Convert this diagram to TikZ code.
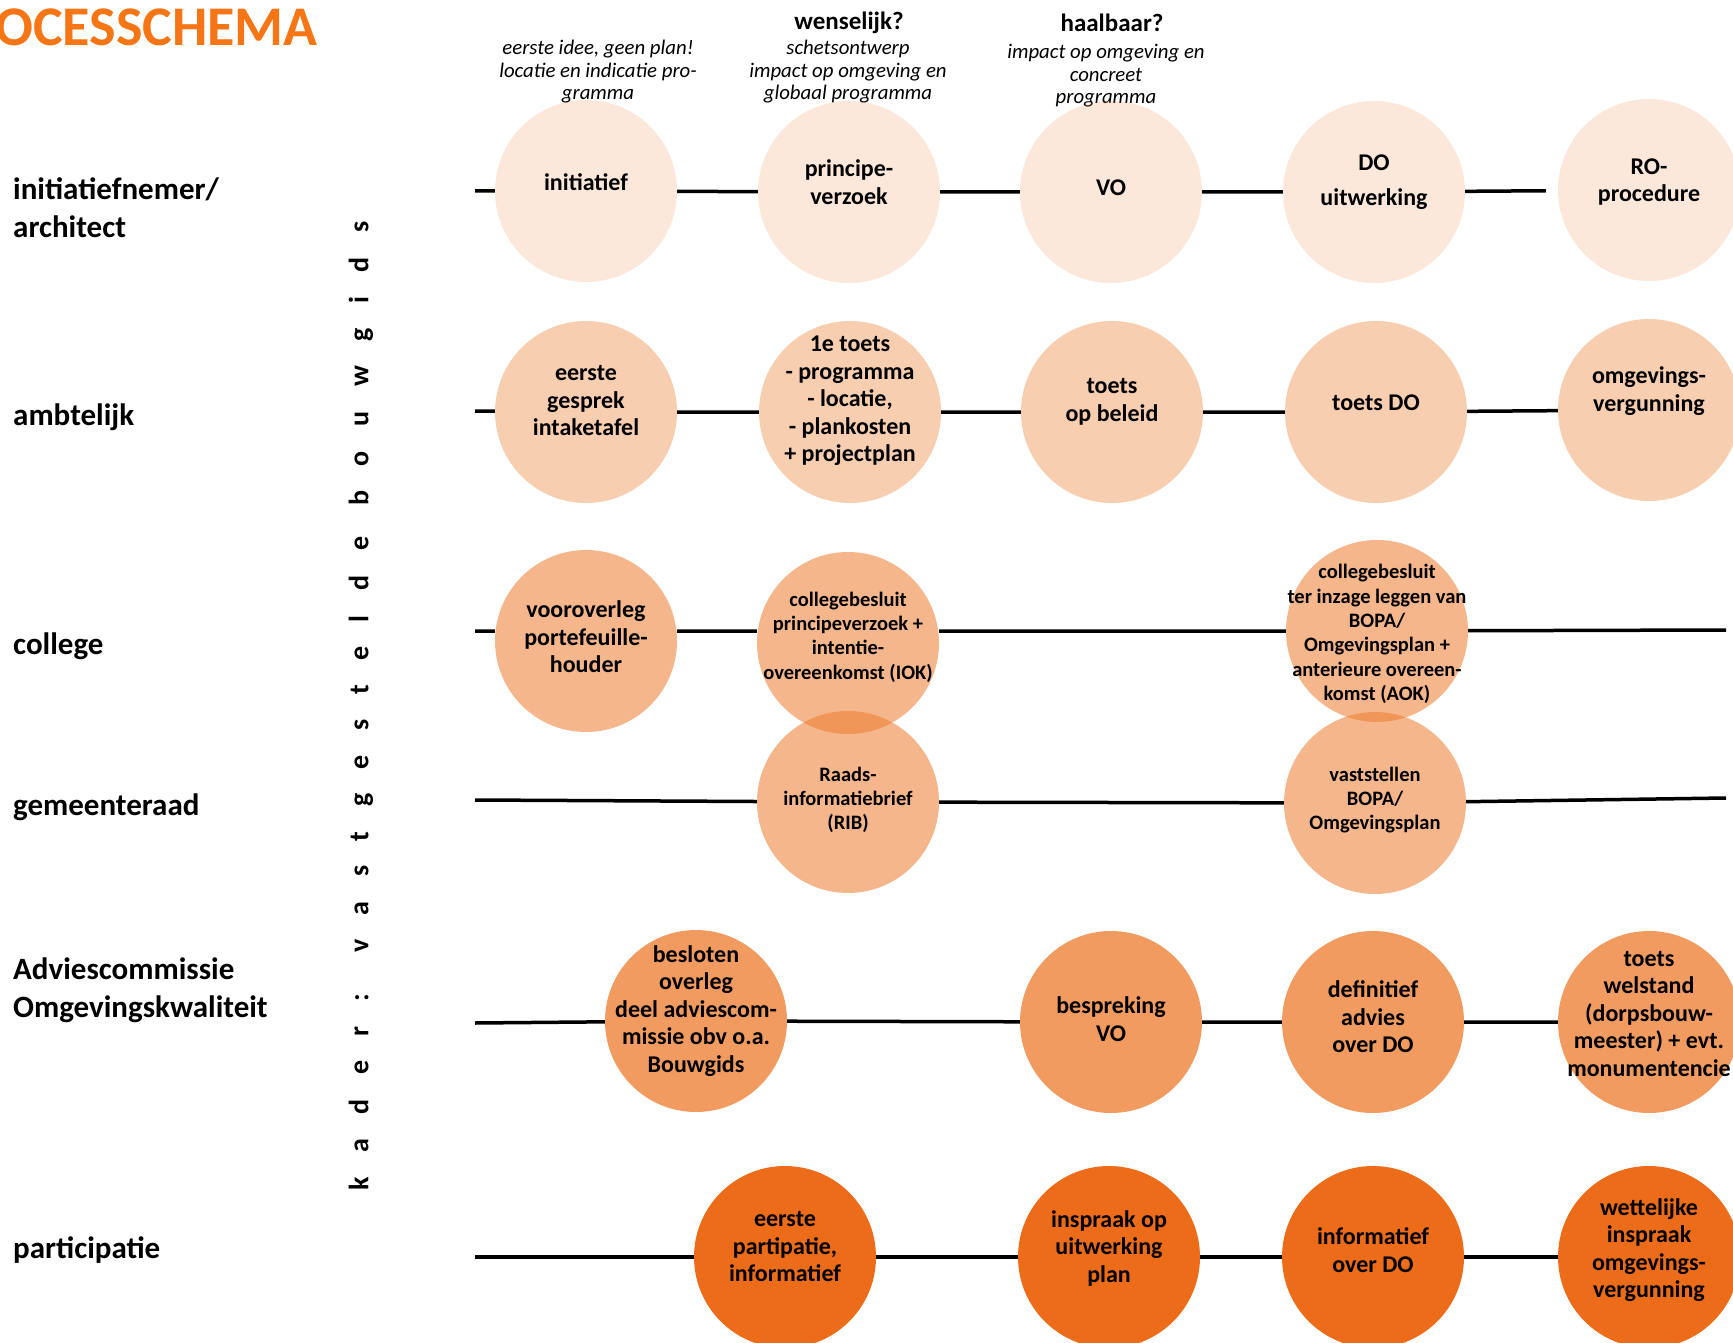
\documentclass[tikz,border=0pt]{standalone}
\usepackage{fontspec}
\setmainfont{Carlito}
\newfontfamily\kaderfont[LetterSpace=88]{Carlito}

\definecolor{oranje}{RGB}{237,125,49}
\definecolor{donkeroranje}{RGB}{236,108,26}
\definecolor{titeloranje}{RGB}{246,117,20}

\tikzset{
  stap/.style={circle,minimum size=182pt,inner sep=0pt,fill=oranje},
  fase1/.style={stap,fill opacity=.18},
  fase2/.style={stap,fill opacity=.38},
  fase3/.style={stap,fill opacity=.56},
  fase5/.style={stap,fill opacity=.77},
  fase6/.style={stap,fill=donkeroranje},
  tekst/.style={font=\bfseries\fontsize{24}{27.5}\selectfont,align=center,text opacity=1,inner sep=0pt},
  klein/.style={tekst,font=\bfseries\fontsize{20.5}{24.3}\selectfont},
  rol/.style={anchor=west,align=left,inner sep=0pt,font=\bfseries\fontsize{31}{38}\selectfont},
  kop/.style={inner sep=0pt,font=\bfseries\fontsize{25}{28}\selectfont},
  toel/.style={inner sep=0pt,align=center,font=\itshape\fontsize{20.8}{22.5}\selectfont},
  lijn/.style={line width=3.5pt}
}

\begin{document}
\begin{tikzpicture}[x=1pt,y=-1pt]
\useasboundingbox (0,0) rectangle (1733,1343);

% titel en kader
\node[anchor=base east,inner sep=0pt,text=titeloranje,font=\bfseries\fontsize{56}{60}\selectfont] (titel) at (318,46) {PROCESSCHEMA};
\node[rotate=90,inner sep=0pt,font=\kaderfont\bfseries\fontsize{28}{30}\selectfont] (kader) at (361,706) {kader: vastgestelde bouwgids};

% rollen
\node[rol] (r-init) at (13,208) {initiatiefnemer/\\architect};
\node[rol] (r-amb) at (13,417) {ambtelijk};
\node[rol] (r-col) at (13,646) {college};
\node[rol] (r-raad) at (13,807) {gemeenteraad};
\node[rol] (r-adv) at (13,990) {Adviescommissie\\Omgevingskwaliteit};
\node[rol] (r-part) at (13,1250) {participatie};

% kopjes
\node[toel] (t-idee) at (598,72) {eerste idee, geen plan!\\locatie en indicatie pro-\\gramma};
\node[kop] (k-wens) at (849,23) {wenselijk?};
\node[toel] (t-wens) at (848,72) {schetsontwerp\\impact op omgeving en\\globaal programma};
\node[kop] (k-haal) at (1112,23) {haalbaar?};
\node[toel] (t-haal) at (1106,76) {impact op omgeving en\\concreet\\programma};

% beginpunten en eindpunten van de lijnen
\coordinate (s1) at (475,191);
\coordinate (s2) at (475,411);
\coordinate (s3) at (475,631);
\coordinate (s4) at (475,800);
\coordinate (s5) at (475,1023);
\coordinate (s6) at (475,1257);
\coordinate (e3) at (1726,630);
\coordinate (e4) at (1726,798);

% initiatiefnemer
\node[fase1,label={[tekst,yshift=9pt]center:{initiatief}}] (init) at (586,191) {};
\node[fase1,label={[tekst,yshift=10pt]center:{principe-\\verzoek}}] (princ) at (849,192) {};
\node[fase1,label={[tekst,yshift=4pt]center:{VO}}] (vo) at (1111,192) {};
\node[fase1,label={[tekst,yshift=10pt]center:{DO\\[7pt]uitwerking}}] (douitw) at (1374,192) {};
\node[fase1,label={[tekst,yshift=8pt]center:{RO-\\procedure}}] (ro) at (1649,190) {};

% ambtelijk
\node[fase2,label={[tekst,yshift=11pt]center:{eerste\\gesprek\\intaketafel}}] (gesprek) at (586,412) {};
\node[fase2,label={[tekst,yshift=11pt]center:{1e toets\\- programma\\- locatie,\\- plankosten\\+ projectplan}}] (toets1) at (850,412) {};
\node[fase2,label={[tekst,yshift=10pt]center:{toets\\op beleid}}] (beleid) at (1112,412) {};
\node[fase2,label={[tekst,yshift=9pt]center:{toets DO}}] (toetsdo) at (1376,412) {};
\node[fase2,label={[tekst,yshift=19pt]center:{omgevings-\\vergunning}}] (omgv) at (1649,410) {};

% college en gemeenteraad
\node[fase3,label={[tekst,yshift=4pt]center:{vooroverleg\\portefeuille-\\houder}}] (voor) at (586,641) {};
\node[fase3,label={[klein,yshift=6pt]center:{collegebesluit\\principeverzoek +\\intentie-\\overeenkomst (IOK)}}] (pcol) at (848,643) {};
\node[fase3,label={[klein,yshift=-3pt]center:{collegebesluit\\ter inzage leggen van\\BOPA/\\Omgevingsplan +\\anterieure overeen-\\komst (AOK)}}] (inzage) at (1377,631) {};
\node[fase3,label={[klein,yshift=2pt]center:{Raads-\\informatiebrief\\(RIB)}}] (raads) at (848,802) {};
\node[fase3,label={[klein,yshift=3pt]center:{vaststellen\\BOPA/\\Omgevingsplan}}] (vastst) at (1375,803) {};

% adviescommissie
\node[fase5,label={[tekst,yshift=10pt]center:{besloten\\overleg\\deel adviescom-\\missie obv o.a.\\Bouwgids}}] (besl) at (696,1021) {};
\node[fase5,label={[tekst,yshift=3pt]center:{bespreking\\VO}}] (bespr) at (1111,1022) {};
\node[fase5,label={[tekst,yshift=5pt]center:{definitief\\advies\\over DO}}] (defi) at (1373,1022) {};
\node[fase5,label={[tekst,yshift=8pt]center:{toets\\welstand\\(dorpsbouw-\\meester) + evt.\\monumentencie}}] (welst) at (1649,1022) {};

% participatie
\node[fase6,label={[tekst,yshift=10pt]center:{eerste\\partipatie,\\informatief}}] (part) at (785,1257) {};
\node[fase6,label={[tekst,yshift=9pt]center:{inspraak op\\uitwerking\\plan}}] (inspr) at (1109,1257) {};
\node[fase6,label={[tekst,yshift=7pt]center:{informatief\\over DO}}] (info) at (1373,1257) {};
\node[fase6,label={[tekst,yshift=7pt]center:{wettelijke\\inspraak\\omgevings-\\vergunning}}] (wett) at (1649,1257) {};

% lijnen
\draw[lijn] (s1) -- (init) -- (princ) -- (vo) -- (douitw);
\draw[lijn,shorten >=12pt] (douitw) -- (ro);
\draw[lijn] (s2) -- (gesprek) -- (toets1) -- (beleid) -- (toetsdo) -- (omgv);
\draw[lijn] (s3) -- (s3 -| voor.west)
            (voor.east |- s3) -- (pcol.west |- s3)
            (pcol.east |- s3) -- (inzage) -- (e3);
\draw[lijn] (s4) -- (raads) -- (vastst) -- (e4);
\draw[lijn] (s5) -- (besl) -- (bespr) -- (defi) -- (welst);
\draw[lijn] (s6) -- (part) -- (inspr) -- (info) -- (wett);
\end{tikzpicture}
\end{document}
